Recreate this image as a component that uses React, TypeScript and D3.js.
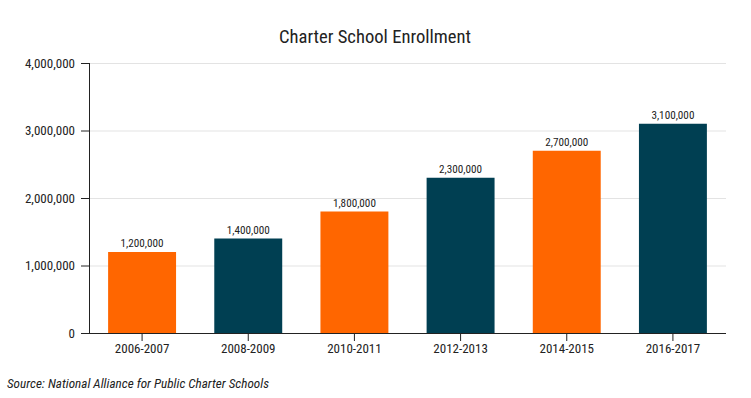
import { useRef, useEffect } from 'react';
import * as d3 from 'd3';

const years = ['2006-2007', '2008-2009', '2010-2011', '2012-2013', '2014-2015', '2016-2017'];
const enrollment = [1200000, 1400000, 1800000, 2300000, 2700000, 3100000];
const barColors = ['#ff6600', '#003f52', '#ff6600', '#003f52', '#ff6600', '#003f52'];
const yTicks = [0, 1000000, 2000000, 3000000, 4000000];

const FONT = "'Roboto Condensed', Roboto, sans-serif";

export default function App() {
  const svgRef = useRef<SVGSVGElement>(null);

  useEffect(() => {
    const svg = d3.select(svgRef.current);
    svg.selectAll('*').remove();

    const margin = { top: 63, right: 25, bottom: 65, left: 89 };
    const width = 751 - margin.left - margin.right;
    const height = 398 - margin.top - margin.bottom;
    const fmt = d3.format(',');

    const x = d3
      .scaleBand()
      .domain(years)
      .range([0, width])
      .paddingInner(0.36)
      .paddingOuter(0.18);

    const y = d3.scaleLinear().domain([0, 4000000]).range([height, 0]);

    svg
      .append('text')
      .attr('x', 375)
      .attr('y', 43)
      .attr('text-anchor', 'middle')
      .attr('font-family', FONT)
      .attr('font-size', 18)
      .attr('fill', '#222')
      .attr('textLength', 192)
      .attr('lengthAdjust', 'spacingAndGlyphs')
      .text('Charter School Enrollment');

    const g = svg
      .append('g')
      .attr('transform', `translate(${margin.left}, ${margin.top})`);

    // gridlines
    g.append('g')
      .selectAll('line')
      .data(yTicks.filter((t) => t > 0))
      .enter()
      .append('line')
      .attr('x1', 0)
      .attr('x2', width)
      .attr('y1', (d) => y(d) + 0.5)
      .attr('y2', (d) => y(d) + 0.5)
      .attr('stroke', '#e3e3e3');

    g.selectAll('rect')
      .data(enrollment)
      .enter()
      .append('rect')
      .attr('x', (_, i) => x(years[i]))
      .attr('y', (d) => y(d))
      .attr('width', x.bandwidth())
      .attr('height', (d) => height - y(d))
      .attr('fill', (_, i) => barColors[i]);

    g.selectAll('.val')
      .data(enrollment)
      .enter()
      .append('text')
      .attr('class', 'val')
      .attr('x', (_, i) => x(years[i]) + x.bandwidth() / 2)
      .attr('y', (d) => y(d) - 5)
      .attr('text-anchor', 'middle')
      .attr('font-family', FONT)
      .attr('font-size', 11)
      .attr('fill', '#222')
      .attr('textLength', 43)
      .attr('lengthAdjust', 'spacingAndGlyphs')
      .text((d) => fmt(d));

    const yAxis = g
      .append('g')
      .call(d3.axisLeft(y).tickValues(yTicks).tickSize(8).tickPadding(6).tickFormat((d) => fmt(d as number)));
    yAxis.select('.domain').attr('stroke', '#222').attr('d', `M0.5,${height}V0`);
    yAxis.selectAll('.tick line').attr('stroke', '#222');
    yAxis
      .selectAll('.tick text')
      .attr('font-family', FONT)
      .attr('font-size', 13)
      .attr('fill', '#222');

    const xAxis = g
      .append('g')
      .attr('transform', `translate(0, ${height})`)
      .call(d3.axisBottom(x).tickSize(8).tickPadding(3));
    xAxis.select('.domain').attr('stroke', '#222').attr('d', `M0,0.5H${width}`);
    xAxis.selectAll('.tick line').attr('stroke', '#222');
    xAxis
      .selectAll('.tick text')
      .attr('font-family', FONT)
      .attr('font-size', 13)
      .attr('fill', '#222');

    svg
      .append('text')
      .attr('x', 7)
      .attr('y', 388)
      .attr('font-family', FONT)
      .attr('font-size', 13)
      .attr('font-style', 'italic')
      .attr('fill', '#222')
      .attr('textLength', 262)
      .attr('lengthAdjust', 'spacingAndGlyphs')
      .text('Source: National Alliance for Public Charter Schools');

    return () => {
      svg.selectAll('*').remove();
    };
  }, []);

  return (
    <svg
      ref={svgRef}
      width={751}
      height={398}
      style={{ position: 'absolute', left: 0, top: 0, background: '#fff' }}
    />
  );
}
